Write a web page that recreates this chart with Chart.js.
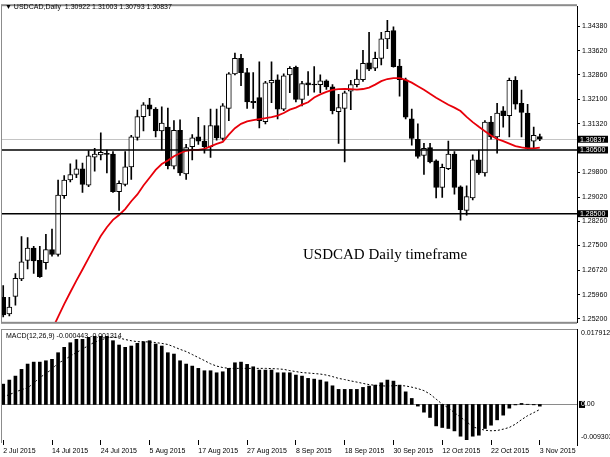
<!DOCTYPE html>
<html>
<head>
<meta charset="utf-8">
<script src="https://cdn.jsdelivr.net/npm/chart.js@4.4.1/dist/chart.umd.min.js"></script>
<style>
  html, body { margin: 0; padding: 0; background: #fff; }
  #wrap { position: relative; width: 610px; height: 457px; overflow: hidden; background: #fff; }
  canvas { position: absolute; left: 0; }
  #mainChart { top: 0; }
  #macdChart { top: 329px; }
  .txt { position: absolute; font-family: 'Liberation Sans', Arial, sans-serif; font-size: 7px; color: #000; white-space: pre; line-height: 8px; }
  #note { position: absolute; left: 303px; top: 246px; font-family: 'Liberation Serif', 'Times New Roman', serif; font-size: 15px; color: #000; white-space: pre; }
</style>
</head>
<body>
<div id="wrap">
  <canvas id="mainChart" width="610" height="329"></canvas>
  <canvas id="macdChart" width="610" height="128"></canvas>
  <div id="title" class="txt" style="left:5px; top:3px;"></div>
  <div id="macdTitle" class="txt" style="left:6px; top:332px;"></div>
  <div id="note">USDCAD Daily timeframe</div>
</div>
<script>
console.log("chart page initializing.");

// daily candles, 2 Jul 2015 .. 3 Nov 2015 (bar index 0..88)
const opens = [
  1.25875, 1.25352, 1.25906, 1.26451, 1.27035, 1.27423, 1.27035, 1.26962, 1.27374, 1.27220,
  1.29066, 1.29558, 1.29731, 1.29906, 1.29392, 1.30275, 1.30346, 1.30398, 1.30368, 1.29189,
  1.29423, 1.29968, 1.30891, 1.31546, 1.31915, 1.31783, 1.31097, 1.31220, 1.29989, 1.31115,
  1.29752, 1.30605, 1.30912, 1.30777, 1.30605, 1.31269, 1.30860, 1.31805, 1.32891, 1.33374,
  1.32931, 1.32029, 1.32143, 1.31392, 1.32605, 1.32706, 1.31783, 1.32860, 1.33097, 1.32091,
  1.32605, 1.32562, 1.32552, 1.32675, 1.32482, 1.31700, 1.31805, 1.32346, 1.32552, 1.32706,
  1.33238, 1.33066, 1.33374, 1.33989, 1.34245, 1.33137, 1.32706, 1.31475, 1.30838, 1.30328,
  1.30574, 1.30162, 1.29322, 1.29915, 1.30368, 1.29343, 1.28605, 1.28992, 1.30192, 1.29783,
  1.31374, 1.30912, 1.31731, 1.31577, 1.32685, 1.31968, 1.31660, 1.30777, 1.30922
];
const highs = [
  1.26245, 1.25875, 1.26623, 1.27783, 1.27752, 1.27475, 1.27475, 1.27854, 1.28020, 1.29558,
  1.29700, 1.30069, 1.30192, 1.30091, 1.30482, 1.30552, 1.31035, 1.30500, 1.30451, 1.29528,
  1.30451, 1.30962, 1.31752, 1.31989, 1.32122, 1.31835, 1.31854, 1.31814, 1.31423, 1.31445,
  1.30675, 1.30983, 1.31528, 1.31269, 1.31783, 1.31783, 1.31958, 1.32931, 1.33546, 1.33506,
  1.33066, 1.32931, 1.33269, 1.32654, 1.33269, 1.32860, 1.32891, 1.33115, 1.33137, 1.32654,
  1.32962, 1.33115, 1.32860, 1.32706, 1.32552, 1.32245, 1.32346, 1.32685, 1.33014, 1.33629,
  1.34192, 1.33577, 1.34192, 1.34574, 1.34368, 1.33343, 1.32758, 1.31783, 1.31322, 1.30706,
  1.30706, 1.30192, 1.30060, 1.30777, 1.30451, 1.29374, 1.29374, 1.30346, 1.30500, 1.31423,
  1.31558, 1.31968, 1.31866, 1.32758, 1.32808, 1.32377, 1.31937, 1.31220, 1.31003
];
const lows = [
  1.25260, 1.25291, 1.25629, 1.26398, 1.26768, 1.26623, 1.26500, 1.26758, 1.27168, 1.27168,
  1.28983, 1.29497, 1.29629, 1.29168, 1.29352, 1.29835, 1.30192, 1.29783, 1.29168, 1.28605,
  1.29374, 1.29577, 1.30808, 1.31097, 1.31577, 1.30912, 1.30500, 1.29906, 1.29906, 1.29700,
  1.29577, 1.30192, 1.30675, 1.30398, 1.30266, 1.30808, 1.30808, 1.31423, 1.32860, 1.32522,
  1.31805, 1.31805, 1.31189, 1.31322, 1.31989, 1.31475, 1.31731, 1.32297, 1.32008, 1.31885,
  1.32214, 1.32315, 1.32297, 1.32398, 1.31629, 1.30706, 1.30122, 1.31762, 1.32482, 1.32654,
  1.32992, 1.32992, 1.33168, 1.33682, 1.33097, 1.32192, 1.31475, 1.30654, 1.30245, 1.29731,
  1.30091, 1.28992, 1.29014, 1.29885, 1.29115, 1.28297, 1.28451, 1.28931, 1.29731, 1.29682,
  1.30838, 1.30398, 1.31220, 1.30912, 1.31783, 1.30912, 1.30531, 1.30574, 1.30793
];
const closes = [
  1.25322, 1.25568, 1.26469, 1.26992, 1.27423, 1.27014, 1.26522, 1.27374, 1.27220, 1.29085,
  1.29558, 1.29731, 1.29906, 1.29423, 1.30315, 1.30368, 1.30429, 1.30358, 1.29189, 1.29454,
  1.29968, 1.30912, 1.31546, 1.31915, 1.31783, 1.31097, 1.31343, 1.30008, 1.31115, 1.29783,
  1.30574, 1.30882, 1.30777, 1.30605, 1.31269, 1.30882, 1.31885, 1.32891, 1.33374, 1.32931,
  1.32008, 1.31989, 1.31423, 1.32605, 1.32685, 1.31783, 1.32829, 1.33066, 1.32091, 1.32583,
  1.32543, 1.32540, 1.32675, 1.32482, 1.31731, 1.31835, 1.32297, 1.32552, 1.32728, 1.33220,
  1.33035, 1.33374, 1.33989, 1.34223, 1.33115, 1.32706, 1.31528, 1.30860, 1.30297, 1.30552,
  1.30122, 1.29322, 1.29958, 1.30368, 1.29322, 1.28623, 1.29035, 1.30192, 1.29783, 1.31374,
  1.30912, 1.31660, 1.31577, 1.32685, 1.31937, 1.31682, 1.30552, 1.30962, 1.30837
];

// red moving average (null = below the window / not shown)
const maValues = [
  null, null, null, null, null, null, null, null, 1.24860, 1.25260,
  1.25660, 1.26035, 1.26398, 1.26749, 1.27106, 1.27457, 1.27798, 1.28075, 1.28306, 1.28460,
  1.28645, 1.28891, 1.29106, 1.29383, 1.29629, 1.29875, 1.30060, 1.30168, 1.30306, 1.30398,
  1.30475, 1.30506, 1.30506, 1.30537, 1.30614, 1.30691, 1.30752, 1.30983, 1.31183, 1.31322,
  1.31398, 1.31435, 1.31469, 1.31497, 1.31531, 1.31577, 1.31660, 1.31768, 1.31829, 1.31922,
  1.31998, 1.32146, 1.32245, 1.32322, 1.32389, 1.32408, 1.32417, 1.32411, 1.32398, 1.32414,
  1.32460, 1.32552, 1.32660, 1.32728, 1.32758, 1.32758, 1.32700, 1.32614, 1.32500, 1.32389,
  1.32263, 1.32143, 1.32029, 1.31922, 1.31829, 1.31722, 1.31537, 1.31374, 1.31229, 1.31091,
  1.30952, 1.30845, 1.30780, 1.30700, 1.30623, 1.30583, 1.30552, 1.30552, 1.30574
];

// MACD(12,26,9): main (histogram) and signal (dotted)
const macdMain = [
  0.00532, 0.00638, 0.00742, 0.00918, 0.01057, 0.01108, 0.01108, 0.01143, 0.01181, 0.01354,
  0.01495, 0.01615, 0.01704, 0.01704, 0.01757, 0.017912, 0.01788, 0.01785, 0.01668, 0.01555,
  0.01495, 0.01529, 0.01600, 0.01642, 0.01668, 0.01582, 0.01529, 0.01354, 0.01319, 0.01143,
  0.01057, 0.01004, 0.00944, 0.00882, 0.00882, 0.00829, 0.00855, 0.00944, 0.01091, 0.01108,
  0.01049, 0.00986, 0.00900, 0.00900, 0.00900, 0.00829, 0.00829, 0.00829, 0.00769, 0.00742,
  0.00682, 0.00663, 0.00638, 0.00592, 0.00488, 0.00394, 0.00394, 0.00394, 0.00394, 0.00446,
  0.00480, 0.00506, 0.00567, 0.00638, 0.00611, 0.00506, 0.00330, 0.00157, -0.00043, -0.00202,
  -0.00341, -0.00561, -0.00603, -0.00629, -0.00692, -0.00831, -0.009303, -0.00831, -0.00805, -0.00629,
  -0.00543, -0.00403, -0.00280, -0.00097, -0.00012, 0.00027, 0.00005, -0.00010, -0.000443
];
const macdSignal = [
  0.00199, 0.00257, 0.00323, 0.00388, 0.00432, 0.00559, 0.00703, 0.00808, 0.00926, 0.01083,
  0.01161, 0.01267, 0.01358, 0.01451, 0.01542, 0.01634, 0.01686, 0.01739, 0.01765, 0.01739,
  0.01699, 0.01668, 0.01642, 0.01642, 0.01634, 0.01620, 0.01597, 0.01569, 0.01508, 0.01442,
  0.01385, 0.01307, 0.01227, 0.01148, 0.01065, 0.01004, 0.00966, 0.00944, 0.00944, 0.00944,
  0.00944, 0.00944, 0.00944, 0.00944, 0.00939, 0.00931, 0.00918, 0.00886, 0.00860, 0.00834,
  0.00823, 0.00809, 0.00795, 0.00769, 0.00729, 0.00682, 0.00651, 0.00616, 0.00585, 0.00551,
  0.00519, 0.00501, 0.00488, 0.00480, 0.00490, 0.00496, 0.00484, 0.00452, 0.00414, 0.00362,
  0.00270, 0.00139, 0.00008, -0.00091, -0.00215, -0.00333, -0.00452, -0.00587, -0.00634, -0.00674,
  -0.00689, -0.00682, -0.00647, -0.00601, -0.00516, -0.00399, -0.00294, -0.00215, -0.001314
];

// axes
const priceMin = 1.25075;
const priceMax = 1.35014;
const priceTicks = [1.34380, 1.33620, 1.32860, 1.32100, 1.31320, 1.29800, 1.29020, 1.28260, 1.27500, 1.26720, 1.25960, 1.25200];
const levelLines = [1.30500, 1.28500];
const macdMax = 0.017912;
const macdMin = -0.009303;
const dateTickBars = [0, 8, 16, 24, 32, 40, 48, 56, 64, 72, 80, 88];
const dateTickLabels = ['2 Jul 2015', '14 Jul 2015', '24 Jul 2015', '5 Aug 2015', '17 Aug 2015', '27 Aug 2015',
  '8 Sep 2015', '18 Sep 2015', '30 Sep 2015', '12 Oct 2015', '22 Oct 2015', '3 Nov 2015'];
const xMin = -0.2;
const xMax = 94.1;

const FONT = "'Liberation Sans', Arial, sans-serif";
const FRAME = '#8c8c8c';
const last = closes.length - 1;

// title texts
document.getElementById('title').textContent = '\u25BC USDCAD,Daily  ' +
  [opens[last], highs[last], lows[last], closes[last]].map(v => v.toFixed(5)).join(' ');
document.getElementById('macdTitle').textContent = 'MACD(12,26,9) ' +
  macdMain[last].toFixed(6) + ' ' + macdSignal[last].toFixed(6);

const wicks = lows.map((l, i) => ({ x: i, y: [l, highs[i]] }));
const bodies = opens.map((o, i) => ({ x: i, y: [o, closes[i]] }));
const bodyColors = opens.map((o, i) => closes[i] >= o ? '#ffffff' : '#000000');
const maPoints = maValues.map((v, i) => ({ x: i, y: v })).filter(p => p.y !== null);

const drawBox = (ctx, x, y, text) => {
  ctx.fillStyle = '#000';
  ctx.fillRect(x, y - 3.5, 30, 7);
  ctx.fillStyle = '#fff';
  ctx.font = '7px ' + FONT;
  ctx.textBaseline = 'middle';
  ctx.textAlign = 'left';
  ctx.fillText(text, x + 2, y + 0.5);
};

const mainPlugin = {
  id: 'mainDecor',
  beforeDatasetsDraw(chart) {
    const { ctx, chartArea, scales } = chart;
    const y = scales.y.getPixelForValue(closes[last]);
    ctx.save();
    ctx.strokeStyle = '#c4c4c4';
    ctx.lineWidth = 1;
    ctx.beginPath();
    ctx.moveTo(chartArea.left, Math.round(y) + 0.5);
    ctx.lineTo(chartArea.right, Math.round(y) + 0.5);
    ctx.stroke();
    ctx.restore();
  },
  afterDatasetsDraw(chart) {
    const { ctx, chartArea, scales } = chart;
    ctx.save();
    ctx.strokeStyle = '#000';
    ctx.lineWidth = 1.6;
    levelLines.forEach(v => {
      const y = scales.y.getPixelForValue(v);
      ctx.beginPath();
      ctx.moveTo(chartArea.left, y);
      ctx.lineTo(chartArea.right, y);
      ctx.stroke();
    });
    ctx.restore();
  },
  afterDraw(chart) {
    const { ctx, chartArea, scales } = chart;
    ctx.save();
    ctx.fillStyle = FRAME;
    ctx.fillRect(chartArea.left, chartArea.top - 2, chartArea.right - chartArea.left, 2);
    ctx.fillRect(chartArea.left - 1, chartArea.top - 2, 1, chartArea.bottom - chartArea.top + 3);
    ctx.fillRect(chartArea.left, chartArea.bottom - 1, chartArea.right - chartArea.left, 2);
    drawBox(ctx, chartArea.right + 1, scales.y.getPixelForValue(closes[last]), closes[last].toFixed(5));
    levelLines.forEach(v => drawBox(ctx, chartArea.right + 1, scales.y.getPixelForValue(v), v.toFixed(5)));
    ctx.restore();
  }
};

const macdPlugin = {
  id: 'macdDecor',
  beforeDatasetsDraw(chart) {
    const { ctx, chartArea, scales } = chart;
    const y = Math.round(scales.y.getPixelForValue(0)) + 0.5;
    ctx.save();
    ctx.strokeStyle = '#8a8a8a';
    ctx.lineWidth = 1;
    ctx.beginPath();
    ctx.moveTo(chartArea.left, y);
    ctx.lineTo(chartArea.right, y);
    ctx.stroke();
    ctx.restore();
  },
  afterDraw(chart) {
    const { ctx, chartArea, scales } = chart;
    const ax = chartArea.right;
    ctx.save();
    ctx.fillStyle = FRAME;
    ctx.fillRect(chartArea.left, 0, chartArea.right - chartArea.left, 1);
    ctx.fillRect(chartArea.left - 1, 0, 1, chartArea.bottom + 3);
    ctx.fillStyle = '#000';
    ctx.fillRect(ax, 0, 1, chartArea.bottom + 6);
    ctx.font = '7px ' + FONT;
    ctx.textAlign = 'left';
    ctx.textBaseline = 'middle';
    ctx.fillText(macdMax.toFixed(6), ax + 4, 4);
    ctx.fillText(macdMin.toFixed(6), ax + 4, chartArea.bottom - 3);
    const zy = scales.y.getPixelForValue(0);
    ctx.fillText('0.00', ax + 4, zy);
    ctx.fillRect(ax + 2, zy - 3.5, 6, 7);
    ctx.fillStyle = '#fff';
    ctx.fillText('0', ax + 4, zy);
    ctx.restore();
  }
};

const mainChart = new Chart(document.getElementById('mainChart'), {
  type: 'bar',
  data: {
    datasets: [
      { type: 'bar', data: wicks, backgroundColor: '#000', barThickness: 1, grouped: false, order: 3 },
      { type: 'bar', data: bodies, backgroundColor: bodyColors, borderColor: '#000', borderWidth: 1,
        borderSkipped: false, barThickness: 5, minBarLength: 1, grouped: false, order: 2 },
      { type: 'line', data: maPoints, borderColor: '#e8000a', borderWidth: 1.8, pointRadius: 0,
        tension: 0, order: 1 }
    ]
  },
  options: {
    responsive: false,
    animation: false,
    layout: { padding: { left: 2, top: 4, right: 0, bottom: 1 } },
    plugins: { legend: { display: false }, tooltip: { enabled: false } },
    scales: {
      x: { type: 'linear', min: xMin, max: xMax, offset: false, display: false },
      y: {
        position: 'right', min: priceMin, max: priceMax,
        afterBuildTicks: s => { s.ticks = priceTicks.map(v => ({ value: v })); },
        afterFit: s => { s.width = 33; },
        ticks: { autoSkip: false, padding: 2, color: '#000', font: { family: FONT, size: 7 },
          callback: v => Number(v).toFixed(5) },
        grid: { drawOnChartArea: false, drawTicks: true, tickLength: 3, color: '#000' },
        border: { display: true, color: '#000', width: 1 }
      }
    }
  },
  plugins: [mainPlugin]
});

const macdChart = new Chart(document.getElementById('macdChart'), {
  type: 'bar',
  data: {
    datasets: [
      { type: 'bar', data: macdMain.map((v, i) => ({ x: i, y: v })), backgroundColor: '#000',
        barThickness: 3, order: 2 },
      { type: 'line', data: macdSignal.map((v, i) => ({ x: i, y: v })), borderColor: '#000',
        borderWidth: 1, borderDash: [2, 2], pointRadius: 0, tension: 0, order: 1 }
    ]
  },
  options: {
    responsive: false,
    animation: false,
    layout: { padding: { left: 2, top: 7, right: 0, bottom: 0 } },
    plugins: { legend: { display: false }, tooltip: { enabled: false } },
    scales: {
      x: {
        type: 'linear', min: xMin, max: xMax, offset: false,
        afterBuildTicks: s => { s.ticks = dateTickBars.map(v => ({ value: v })); },
        afterFit: s => { s.height = 17; },
        ticks: { autoSkip: false, maxRotation: 0, align: 'start', padding: 2, color: '#000',
          font: { family: FONT, size: 7 }, callback: (v, i) => dateTickLabels[i] },
        grid: { drawOnChartArea: false, drawTicks: true, tickLength: 5, color: '#000', offset: false },
        border: { display: false }
      },
      y: {
        position: 'right', min: macdMin, max: macdMax,
        afterFit: s => { s.width = 33; },
        ticks: { display: false },
        grid: { display: false },
        border: { display: false }
      }
    }
  },
  plugins: [macdPlugin]
});

console.log("chart page loaded.");
</script>
</body>
</html>
